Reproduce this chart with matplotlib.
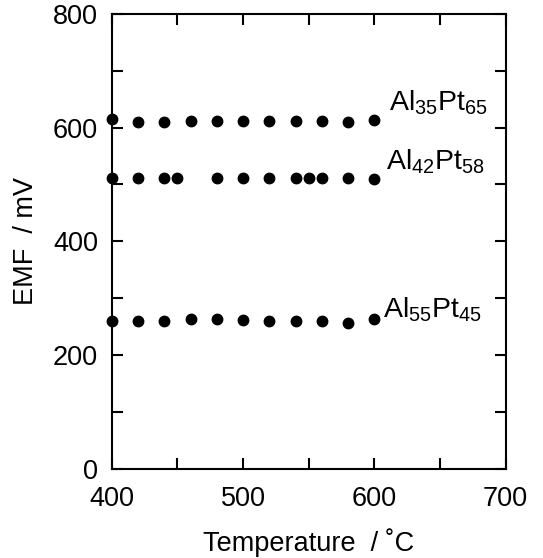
###############################################################
# matplotlib
###############################################################
import matplotlib
matplotlib.use('Agg')
import matplotlib.pyplot as plt
from matplotlib.ticker import MultipleLocator

plt.rcParams['font.family'] = ['Liberation Sans', 'DejaVu Sans']
plt.rcParams['mathtext.fontset'] = 'custom'
plt.rcParams['mathtext.rm'] = 'Liberation Sans'

###############################################################
# data
###############################################################
temp_35 = [400, 420, 440, 460, 480, 500, 520, 540, 560, 580, 600]
emf_35 = [615, 609, 609, 611, 611, 611, 611, 611, 611, 609, 613]

temp_42 = [400, 420, 440, 450, 480, 500, 520, 540, 550, 560, 580, 600]
emf_42 = [512, 512, 512, 512, 512, 512, 512, 512, 512, 512, 511, 510]

temp_55 = [400, 420, 440, 460, 480, 500, 520, 540, 560, 580, 600]
emf_55 = [260, 260, 260, 263, 263, 261, 260, 260, 260, 256, 264]

labels = [r'Al$\mathregular{_{35}}$Pt$\mathregular{_{65}}$',
          r'Al$\mathregular{_{42}}$Pt$\mathregular{_{58}}$',
          r'Al$\mathregular{_{55}}$Pt$\mathregular{_{45}}$']
label_x = [611, 609, 607]
label_y = [629, 527, 267]

##################################################
# the figure
##################################################
fig = plt.figure(figsize=(5.43, 5.58), dpi=100)
ax = fig.add_axes([0.206, 0.1595, 0.725, 0.816])
linewidth = 1.5
fontsize = 19.5

for t, e in [(temp_35, emf_35), (temp_42, emf_42), (temp_55, emf_55)]:
    ax.plot(t, e, 'o', color='black', markersize=7.5, clip_on=False, zorder=5)

# labels placed by their baseline
for lab, lx, ly in zip(labels, label_x, label_y):
    ax.text(lx, ly, lab, fontsize=20.5, ha='left', va='baseline')

ax.set_xlim(400, 700)
ax.set_ylim(0, 800)
ax.xaxis.set_major_locator(MultipleLocator(100))
ax.xaxis.set_minor_locator(MultipleLocator(50))
ax.yaxis.set_major_locator(MultipleLocator(200))
ax.yaxis.set_minor_locator(MultipleLocator(100))
ax.tick_params(which='both', direction='in', top=True, right=True,
               length=8, width=linewidth, labelsize=fontsize)
ax.tick_params(axis='x', which='major', pad=12)
ax.tick_params(axis='y', which='major', pad=10)
for s in ax.spines.values():
    s.set_linewidth(linewidth)

ax.set_xlabel('Temperature  / ˚C', fontsize=fontsize, labelpad=12)
ax.set_ylabel('EMF  / mV', fontsize=fontsize, labelpad=10)

##################################################
# saving
##################################################
plt.savefig('out.png', dpi=100)
